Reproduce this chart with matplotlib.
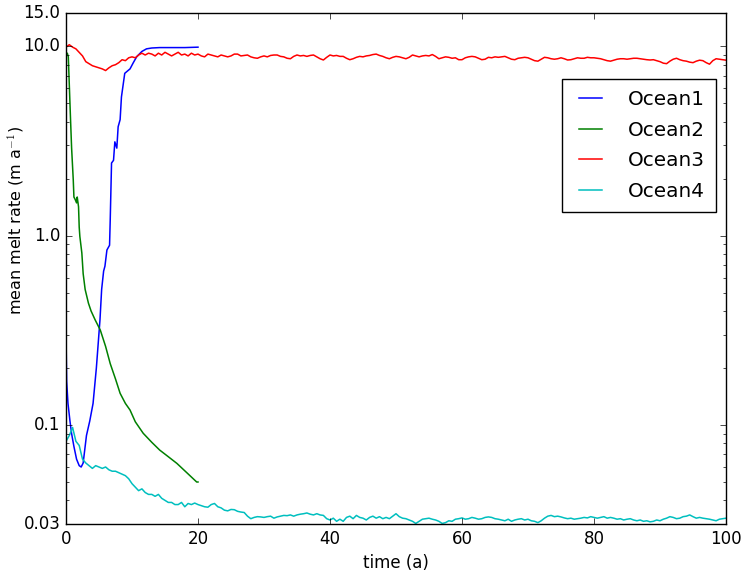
import numpy as np
import matplotlib
matplotlib.use("Agg")
import matplotlib.pyplot as plt
from matplotlib.ticker import FixedLocator, FixedFormatter, LogLocator, NullFormatter

# ---------------- data ----------------
labels = ["Ocean1", "Ocean2", "Ocean3", "Ocean4"]
colors = ["b", "g", "r", "c"]

t1 = [0, 0.1, 0.3, 0.6, 0.85, 1.2, 1.6, 2.0, 2.3, 2.6, 3.1, 3.6, 4.1, 4.6, 5.15,
      5.4, 5.7, 5.9, 6.2, 6.6, 6.7, 6.9, 7.2, 7.4, 7.7, 7.9, 8.2, 8.4, 8.9, 9.3,
      9.7, 10.2, 10.7, 11.1, 11.5, 12.2, 13, 14.2, 16, 18, 20]
v1 = [0.30, 0.17, 0.13, 0.105, 0.09, 0.077, 0.066, 0.061, 0.06, 0.063, 0.088,
      0.105, 0.13, 0.2, 0.36, 0.52, 0.65, 0.69, 0.84, 0.89, 1.21, 2.42, 2.5, 3.13,
      2.9, 3.76, 4.1, 5.4, 7.2, 7.4, 7.6, 8.2, 8.8, 9.1, 9.4, 9.7, 9.8, 9.85, 9.85,
      9.85, 9.9]

t2 = [0, 0.2, 0.35, 0.6, 0.7, 0.85, 1.1, 1.2, 1.4, 1.6, 1.7, 1.9, 2.0, 2.1, 2.4,
      2.6, 2.9, 3.4, 3.8, 4.4, 5.2, 6.0, 6.7, 7.5, 8.2, 9.0, 9.7, 10.5, 11.7, 13.0,
      14.2, 15.5, 16.8, 18.3, 19.8, 20]
v2 = [8.9, 9.2, 8.8, 5.0, 4.0, 2.9, 1.97, 1.6, 1.55, 1.49, 1.6, 1.42, 1.11, 0.99,
      0.81, 0.63, 0.52, 0.44, 0.40, 0.36, 0.317, 0.26, 0.211, 0.175, 0.147, 0.13,
      0.12, 0.104, 0.0904, 0.081, 0.0737, 0.068, 0.0627, 0.056, 0.050, 0.050]

# Ocean3 and Ocean4 sampled every 0.5 a from 0 to 100
v3 = [9.9, 10.2, 9.9, 9.7, 9.3, 8.9, 8.3, 8.1, 7.9, 7.8, 7.7, 7.6, 7.45, 7.7, 7.9,
      8.0, 8.2, 8.5, 8.4, 8.7, 8.8, 8.7, 9.0, 9.2, 9.0, 9.2, 9.1, 8.9, 9.2, 9.0,
      9.3, 9.1, 8.9, 9.1, 9.3, 9.0, 9.1, 8.9, 9.2, 9.0, 9.1, 8.9, 8.8, 9.1, 9.0,
      8.9, 8.8, 9.0, 8.9, 8.8, 8.9, 9.1, 9.1, 8.9, 8.95, 9.0, 8.8, 8.7, 8.65, 8.8,
      8.9, 8.8, 8.95, 9.0, 9.0, 8.85, 8.8, 8.65, 8.6, 8.85, 9.0, 8.9, 8.95, 8.85,
      8.95, 9.0, 8.8, 8.6, 8.47, 8.75, 9.0, 8.9, 8.95, 8.85, 8.85, 8.65, 8.5, 8.6,
      8.75, 8.85, 8.8, 8.9, 8.95, 9.05, 9.1, 8.95, 8.85, 8.7, 8.6, 8.75, 8.85, 8.8,
      8.7, 8.6, 8.75, 9.0, 8.9, 8.8, 8.9, 8.95, 8.9, 9.05, 8.85, 8.6, 8.7, 8.8,
      8.75, 8.65, 8.7, 8.5, 8.5, 8.7, 8.8, 8.85, 8.8, 8.65, 8.5, 8.55, 8.75, 8.7,
      8.8, 8.75, 8.8, 8.85, 8.7, 8.55, 8.5, 8.65, 8.7, 8.75, 8.7, 8.55, 8.4, 8.35,
      8.55, 8.75, 8.7, 8.6, 8.55, 8.6, 8.7, 8.6, 8.47, 8.5, 8.6, 8.7, 8.65, 8.65,
      8.75, 8.7, 8.7, 8.65, 8.6, 8.5, 8.4, 8.35, 8.45, 8.55, 8.6, 8.6, 8.55, 8.6,
      8.65, 8.65, 8.6, 8.55, 8.5, 8.47, 8.5, 8.4, 8.3, 8.15, 8.1, 8.35, 8.55, 8.65,
      8.5, 8.4, 8.35, 8.25, 8.2, 8.35, 8.45, 8.4, 8.2, 8.05, 8.4, 8.6, 8.55, 8.5,
      8.45]

v4 = [0.082, 0.088, 0.097, 0.082, 0.078, 0.066, 0.063, 0.061, 0.059, 0.061, 0.060,
      0.059, 0.060, 0.058, 0.057, 0.057, 0.056, 0.055, 0.054, 0.052, 0.049, 0.047,
      0.045, 0.046, 0.044, 0.043, 0.043, 0.042, 0.043, 0.041, 0.040, 0.039, 0.039,
      0.038, 0.038, 0.039, 0.037, 0.0385, 0.038, 0.0387, 0.038, 0.0375, 0.037,
      0.0368, 0.038, 0.0385, 0.037, 0.0365, 0.0355, 0.0352, 0.0358, 0.0357, 0.035,
      0.0347, 0.0345, 0.033, 0.032, 0.0325, 0.0328, 0.0327, 0.0325, 0.0328, 0.033,
      0.0322, 0.0327, 0.033, 0.0333, 0.0332, 0.0335, 0.033, 0.0335, 0.0338, 0.034,
      0.0343, 0.0338, 0.0335, 0.034, 0.0335, 0.0333, 0.032, 0.0315, 0.0322, 0.031,
      0.0318, 0.031, 0.0325, 0.033, 0.032, 0.0333, 0.0325, 0.0322, 0.0315, 0.0325,
      0.033, 0.0322, 0.0328, 0.032, 0.0325, 0.032, 0.033, 0.034, 0.0328, 0.0322,
      0.032, 0.0315, 0.031, 0.0302, 0.031, 0.0318, 0.032, 0.0322, 0.0318, 0.0315,
      0.031, 0.0302, 0.0305, 0.0312, 0.031, 0.0318, 0.032, 0.0323, 0.0318, 0.032,
      0.0325, 0.0322, 0.0318, 0.032, 0.0325, 0.0327, 0.0325, 0.032, 0.0318, 0.0315,
      0.0312, 0.0318, 0.031, 0.0315, 0.0318, 0.032, 0.0315, 0.0318, 0.0312, 0.031,
      0.0305, 0.0312, 0.0322, 0.033, 0.0333, 0.0328, 0.033, 0.0327, 0.0323, 0.032,
      0.0322, 0.0318, 0.032, 0.0322, 0.0325, 0.0323, 0.0328, 0.0325, 0.0322, 0.0325,
      0.0328, 0.0322, 0.0325, 0.0322, 0.0318, 0.032, 0.0315, 0.0318, 0.032, 0.0315,
      0.0312, 0.0315, 0.031, 0.0312, 0.0308, 0.031, 0.0315, 0.0312, 0.0318, 0.0322,
      0.0328, 0.0325, 0.032, 0.0322, 0.0328, 0.033, 0.0335, 0.0328, 0.0322, 0.0325,
      0.0322, 0.032, 0.0318, 0.0315, 0.0312, 0.0318, 0.032, 0.0322]

t3 = np.arange(len(v3)) * 0.5
t4 = np.arange(len(v4)) * 0.5

ytick_vals = [0.03, 0.1, 1.0, 10.0, 15.0]
ytick_labels = ["0.03", "0.1", "1.0", "10.0", "15.0"]
xtick_vals = [0, 20, 40, 60, 80, 100]

# ---------------- plot ----------------
plt.style.use("classic")
plt.rcParams["figure.facecolor"] = "white"
plt.rcParams["font.family"] = ["DejaVu Sans"]

fig = plt.figure(figsize=(7.45, 5.73), dpi=100)
ax = fig.add_axes([66 / 745, 1 - 524 / 573, 660 / 745, 511 / 573])

for t, v, c, lab in zip([t1, t2, t3, t4], [v1, v2, v3, v4], colors, labels):
    ax.plot(t, v, color=c, lw=1.1, label=lab)

ax.set_yscale("log")
ax.set_xlim(0, 100)
ax.set_ylim(0.03, 15)
ax.yaxis.set_major_locator(FixedLocator(ytick_vals))
ax.yaxis.set_major_formatter(FixedFormatter(ytick_labels))
ax.yaxis.set_minor_locator(LogLocator(base=10, subs=np.arange(2, 10)))
ax.yaxis.set_minor_formatter(NullFormatter())
ax.set_xticks(xtick_vals)
ax.tick_params(axis="both", which="major", labelsize=12, direction="in", length=4,
               top=True, right=True)
ax.tick_params(axis="both", which="minor", direction="in", length=2,
               top=True, right=True)

ax.set_xlabel("time (a)", fontsize=12)
ax.set_ylabel("mean melt rate (m a$^{-1}$)", fontsize=11.5)
ax.yaxis.set_label_coords(-0.06, 0.593)

leg = ax.legend(loc="upper right", bbox_to_anchor=(0.985, 0.871), fontsize=14.4,
                handlelength=1.75, handletextpad=1.0, labelspacing=0.58,
                numpoints=2, fancybox=False, borderpad=0.55, borderaxespad=0.0)
leg.get_frame().set_edgecolor("black")

fig.savefig("out.png", dpi=100, facecolor="white")
